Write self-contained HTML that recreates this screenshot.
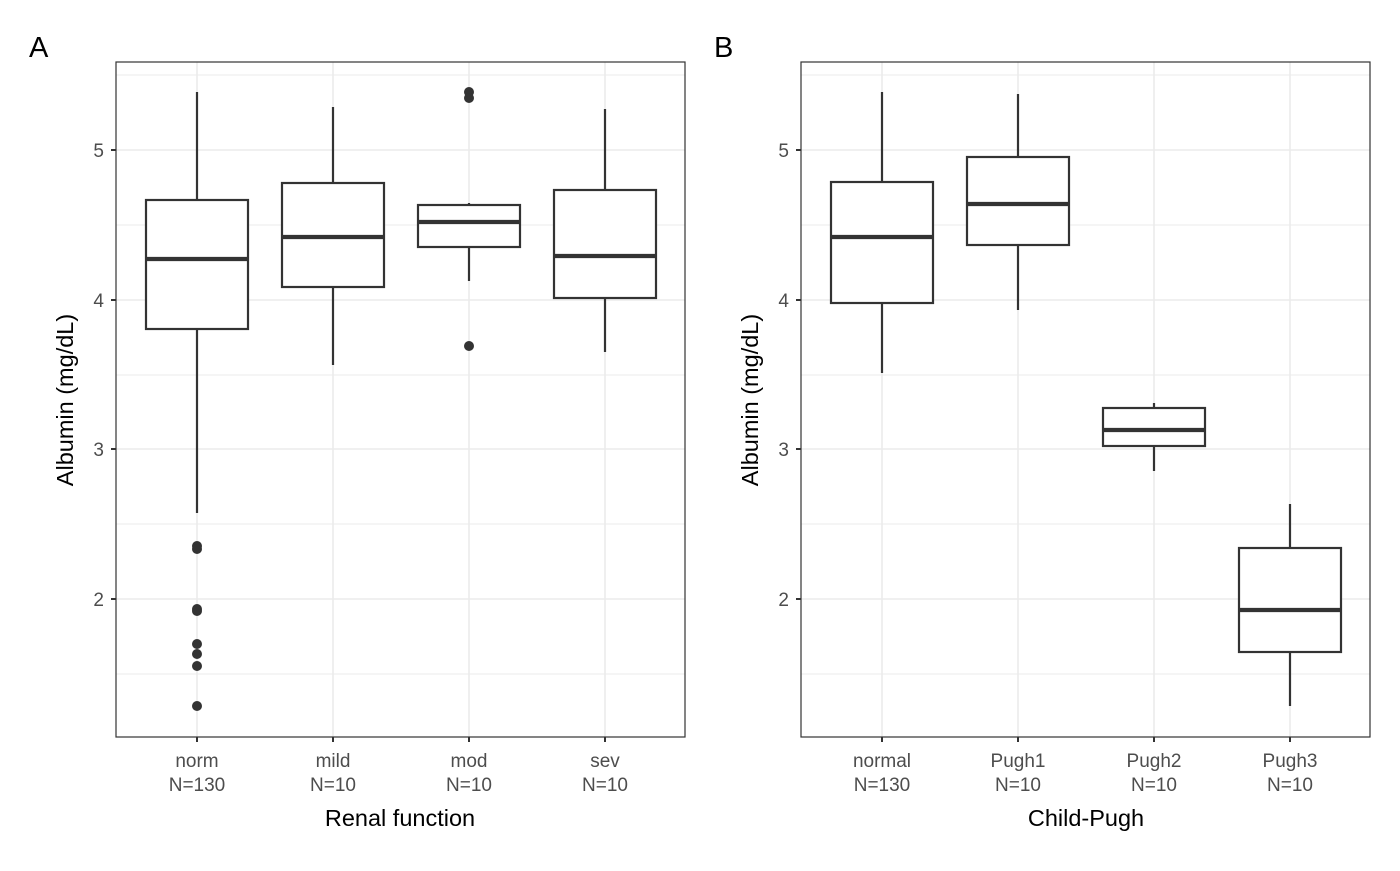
<!DOCTYPE html>
<html><head><meta charset="utf-8"><style>
body{margin:0;background:#fff}
svg text{font-family:"Liberation Sans",sans-serif}
.t{fill:#4d4d4d;font-size:19px;text-anchor:middle}
.ty{fill:#4d4d4d;font-size:19px;text-anchor:end}
.ti{fill:#000;font-size:23.5px;text-anchor:middle}
.g1{stroke:#ebebeb;stroke-width:1.6}
.g2{stroke:#ebebeb;stroke-width:0.9}
.b{fill:#fff;stroke:#333;stroke-width:2.2}
.w{stroke:#333;stroke-width:2.2}
.m{stroke:#333;stroke-width:4.2}
.tk{stroke:#333;stroke-width:2}
</style></head><body>
<svg width="1400" height="866" xmlns="http://www.w3.org/2000/svg">
<text x="29" y="57" style="font-size:29px">A</text>
<text x="714" y="57" style="font-size:29px">B</text>

<!-- Panel A -->
<g>
<line class="g2" x1="116" x2="685" y1="75" y2="75"/>
<line class="g2" x1="116" x2="685" y1="225" y2="225"/>
<line class="g2" x1="116" x2="685" y1="375" y2="375"/>
<line class="g2" x1="116" x2="685" y1="524" y2="524"/>
<line class="g2" x1="116" x2="685" y1="674" y2="674"/>
<line class="g1" x1="116" x2="685" y1="150" y2="150"/>
<line class="g1" x1="116" x2="685" y1="300" y2="300"/>
<line class="g1" x1="116" x2="685" y1="449" y2="449"/>
<line class="g1" x1="116" x2="685" y1="599" y2="599"/>
<line class="g1" x1="197" x2="197" y1="62" y2="737"/>
<line class="g1" x1="333" x2="333" y1="62" y2="737"/>
<line class="g1" x1="469" x2="469" y1="62" y2="737"/>
<line class="g1" x1="605" x2="605" y1="62" y2="737"/>

<line class="w" x1="197" x2="197" y1="92" y2="513"/>
<rect class="b" x="146" y="200" width="102" height="129"/>
<line class="m" x1="146" x2="248" y1="259" y2="259"/>
<g fill="#333"><circle cx="197" cy="546" r="5"/><circle cx="197" cy="549" r="5"/><circle cx="197" cy="609" r="5"/><circle cx="197" cy="611" r="5"/><circle cx="197" cy="644" r="5"/><circle cx="197" cy="654" r="5"/><circle cx="197" cy="666" r="5"/><circle cx="197" cy="706" r="5"/></g>

<line class="w" x1="333" x2="333" y1="107" y2="365"/>
<rect class="b" x="282" y="183" width="102" height="104"/>
<line class="m" x1="282" x2="384" y1="237" y2="237"/>

<line class="w" x1="469" x2="469" y1="203" y2="281"/>
<rect class="b" x="418" y="205" width="102" height="42"/>
<line class="m" x1="418" x2="520" y1="222" y2="222"/>
<g fill="#333"><circle cx="469" cy="92" r="5"/><circle cx="469" cy="98" r="5"/><circle cx="469" cy="346" r="5"/></g>

<line class="w" x1="605" x2="605" y1="109" y2="352"/>
<rect class="b" x="554" y="190" width="102" height="108"/>
<line class="m" x1="554" x2="656" y1="256" y2="256"/>

<rect x="116" y="62" width="569" height="675" fill="none" stroke="#333" stroke-width="1.2"/>
<line class="tk" x1="111" x2="116" y1="150" y2="150"/><line class="tk" x1="111" x2="116" y1="300" y2="300"/>
<line class="tk" x1="111" x2="116" y1="449" y2="449"/><line class="tk" x1="111" x2="116" y1="599" y2="599"/>
<text class="ty" x="104" y="157">5</text><text class="ty" x="104" y="307">4</text>
<text class="ty" x="104" y="456">3</text><text class="ty" x="104" y="606">2</text>
<line class="tk" x1="197" x2="197" y1="737" y2="742"/><line class="tk" x1="333" x2="333" y1="737" y2="742"/>
<line class="tk" x1="469" x2="469" y1="737" y2="742"/><line class="tk" x1="605" x2="605" y1="737" y2="742"/>
<text class="t" x="197" y="767">norm</text><text class="t" x="197" y="791">N=130</text>
<text class="t" x="333" y="767">mild</text><text class="t" x="333" y="791">N=10</text>
<text class="t" x="469" y="767">mod</text><text class="t" x="469" y="791">N=10</text>
<text class="t" x="605" y="767">sev</text><text class="t" x="605" y="791">N=10</text>
<text class="ti" x="400" y="826">Renal function</text>
<text class="ti" transform="translate(73,400) rotate(-90)">Albumin (mg/dL)</text>
</g>

<!-- Panel B -->
<g>
<line class="g2" x1="801" x2="1370" y1="75" y2="75"/>
<line class="g2" x1="801" x2="1370" y1="225" y2="225"/>
<line class="g2" x1="801" x2="1370" y1="375" y2="375"/>
<line class="g2" x1="801" x2="1370" y1="524" y2="524"/>
<line class="g2" x1="801" x2="1370" y1="674" y2="674"/>
<line class="g1" x1="801" x2="1370" y1="150" y2="150"/>
<line class="g1" x1="801" x2="1370" y1="300" y2="300"/>
<line class="g1" x1="801" x2="1370" y1="449" y2="449"/>
<line class="g1" x1="801" x2="1370" y1="599" y2="599"/>
<line class="g1" x1="882" x2="882" y1="62" y2="737"/>
<line class="g1" x1="1018" x2="1018" y1="62" y2="737"/>
<line class="g1" x1="1154" x2="1154" y1="62" y2="737"/>
<line class="g1" x1="1290" x2="1290" y1="62" y2="737"/>

<line class="w" x1="882" x2="882" y1="92" y2="373"/>
<rect class="b" x="831" y="182" width="102" height="121"/>
<line class="m" x1="831" x2="933" y1="237" y2="237"/>

<line class="w" x1="1018" x2="1018" y1="94" y2="310"/>
<rect class="b" x="967" y="157" width="102" height="88"/>
<line class="m" x1="967" x2="1069" y1="204" y2="204"/>

<line class="w" x1="1154" x2="1154" y1="403" y2="471"/>
<rect class="b" x="1103" y="408" width="102" height="38"/>
<line class="m" x1="1103" x2="1205" y1="430" y2="430"/>

<line class="w" x1="1290" x2="1290" y1="504" y2="706"/>
<rect class="b" x="1239" y="548" width="102" height="104"/>
<line class="m" x1="1239" x2="1341" y1="610" y2="610"/>

<rect x="801" y="62" width="569" height="675" fill="none" stroke="#333" stroke-width="1.2"/>
<line class="tk" x1="796" x2="801" y1="150" y2="150"/><line class="tk" x1="796" x2="801" y1="300" y2="300"/>
<line class="tk" x1="796" x2="801" y1="449" y2="449"/><line class="tk" x1="796" x2="801" y1="599" y2="599"/>
<text class="ty" x="789" y="157">5</text><text class="ty" x="789" y="307">4</text>
<text class="ty" x="789" y="456">3</text><text class="ty" x="789" y="606">2</text>
<line class="tk" x1="882" x2="882" y1="737" y2="742"/><line class="tk" x1="1018" x2="1018" y1="737" y2="742"/>
<line class="tk" x1="1154" x2="1154" y1="737" y2="742"/><line class="tk" x1="1290" x2="1290" y1="737" y2="742"/>
<text class="t" x="882" y="767">normal</text><text class="t" x="882" y="791">N=130</text>
<text class="t" x="1018" y="767">Pugh1</text><text class="t" x="1018" y="791">N=10</text>
<text class="t" x="1154" y="767">Pugh2</text><text class="t" x="1154" y="791">N=10</text>
<text class="t" x="1290" y="767">Pugh3</text><text class="t" x="1290" y="791">N=10</text>
<text class="ti" x="1086" y="826">Child-Pugh</text>
<text class="ti" transform="translate(758,400) rotate(-90)">Albumin (mg/dL)</text>
</g>
</svg>
</body></html>
